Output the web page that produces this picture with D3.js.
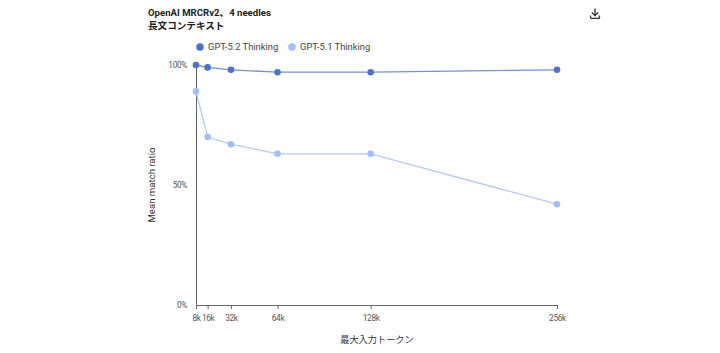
<!DOCTYPE html>
<html><head><meta charset="utf-8">
<script src="https://cdn.jsdelivr.net/npm/d3@7/dist/d3.min.js"></script>
<style>
html,body{margin:0;padding:0;background:#fff}
svg{display:block}
text{font-family:"Roboto","Noto Sans CJK JP",sans-serif}
</style></head><body>
<svg id="c" width="720" height="353"></svg>
<script>
const tokens=[8,16,32,64,128,256];
const tickLabels=["8k","16k","32k","64k","128k","256k"];
const gpt52=[100,99,98,97,97,98];
const gpt51=[89,70,67,63,63,42];
const yTicks=[0,50,100];
const seriesNames=["GPT-5.2 Thinking","GPT-5.1 Thinking"];
const colors=["#4e72c4","#a3bdf5"];
const lineColors=["#7393d6","#b4c9f7"];
const title=["OpenAI MRCRv2、4 needles","長文コンテキスト"];
const xTitle="最大入力トークン", yTitle="Mean match ratio";

const svg=d3.select("#c");
const x=d3.scaleLinear().domain([8,256]).range([196,557]);
const y=d3.scaleLinear().domain([0,100]).range([305,65]);
const axisCol="#666";

const ax=svg.append("g").attr("transform","translate(0,305)")
 .call(d3.axisBottom(x).tickValues(tokens).tickFormat((d,i)=>tickLabels[i]).tickSize(4).tickSizeOuter(0).tickPadding(6));
ax.select(".domain").attr("stroke",axisCol).attr("stroke-width",1);
ax.selectAll(".tick line").attr("stroke",axisCol);
ax.selectAll("text").attr("fill","#555").attr("font-size",8.3).attr("letter-spacing",-0.35);

const ay=svg.append("g").attr("transform","translate(196,0)")
 .call(d3.axisLeft(y).tickValues(yTicks).tickFormat(d=>d+"%").tickSize(0).tickPadding(9));
ay.select(".domain").attr("stroke",axisCol).attr("stroke-width",1);
ay.selectAll("text").attr("fill","#555").attr("font-size",8.3).attr("letter-spacing",-0.35);

const line=d3.line().x((d,i)=>x(tokens[i])).y(d=>y(d));
[gpt51,gpt52].forEach((s,k)=>{
  const j=k===0?1:0;
  svg.append("path").attr("d",line(s)).attr("fill","none").attr("stroke",lineColors[j]).attr("stroke-width",1.3);
  svg.selectAll(null).data(s).enter().append("circle")
    .attr("cx",(d,i)=>x(tokens[i])).attr("cy",d=>y(d)).attr("r",3.3).attr("fill",colors[j]);
});

svg.selectAll(null).data(title).enter().append("text")
 .attr("x",148).attr("y",(d,i)=>15.5+i*13.5).attr("font-size",9.6).attr("font-weight",700).attr("fill","#222").text(d=>d);

const lx=[200,292];
seriesNames.forEach((n,i)=>{
  svg.append("circle").attr("cx",lx[i]).attr("cy",47).attr("r",3.8).attr("fill",colors[i]);
  svg.append("text").attr("x",lx[i]+8).attr("y",50).attr("font-size",9.4).attr("fill","#444").text(n);
});

svg.append("text").attr("x",377).attr("y",343).attr("text-anchor","middle").attr("font-size",9.2).attr("fill","#333").text(xTitle);
svg.append("text").attr("transform","translate(155,185) rotate(-90)").attr("text-anchor","middle").attr("font-size",9.6).attr("fill","#333").text(yTitle);

const ic=svg.append("g").attr("fill","none").attr("stroke","#333").attr("stroke-width",1.3);
ic.append("path").attr("d","M595 8.5V15.5M591.8 12.5L595 15.7L598.2 12.5");
ic.append("path").attr("d","M590.5 15.5V17.2Q590.5 18.4 591.7 18.4H598.3Q599.5 18.4 599.5 17.2V15.5");
</script>
</body></html>
